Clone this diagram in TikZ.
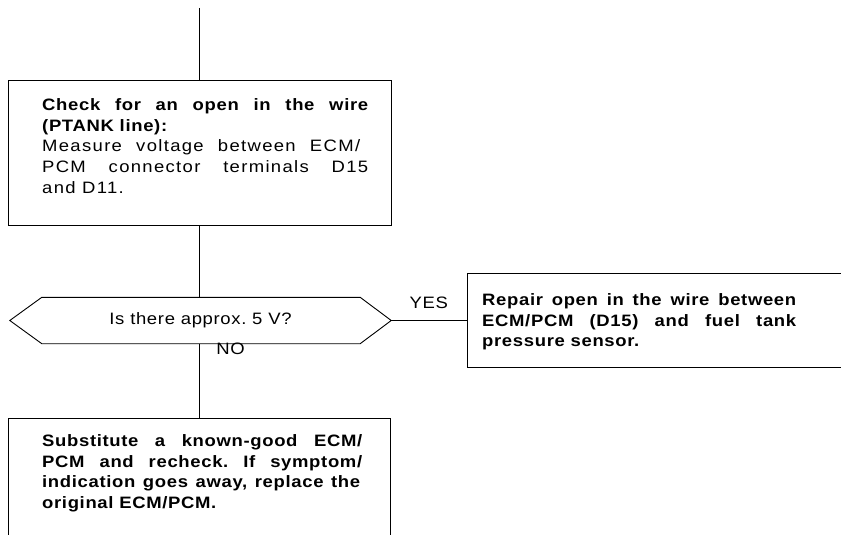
\documentclass[tikz,border=0pt]{standalone}
\usepackage{fontspec}
\setmainfont{Liberation Sans}[LetterSpace=4, FakeStretch=1.12]
\newfontfamily\widefont{Liberation Sans}[LetterSpace=8, FakeStretch=1.12]
\usetikzlibrary{calc}
\newcommand\jline[2]{\makebox[#1][s]{#2}}
\tikzset{
  conn/.style={line width=0.9pt},
  boxnode/.style={draw, line width=0.9pt, rectangle, inner sep=0pt},
  txt/.style={font=\fontsize{16.5}{20.8}\selectfont\frenchspacing, inner sep=0pt, align=left, anchor=north west},
  btxt/.style={txt, font=\fontsize{16.5}{20.8}\selectfont\frenchspacing\bfseries},
  lbl/.style={font=\fontsize{16.5}{18}\selectfont\frenchspacing, inner sep=0pt},
}
\begin{document}
\begin{tikzpicture}[x=1pt,y=-1pt]
\useasboundingbox (0,0) rectangle (841,535);
\clip (0,0) rectangle (841,535);
% boxes
\node[boxnode, minimum width=383pt, minimum height=145pt] (b1) at (199.5,152.5) {};
\node[boxnode, minimum width=433pt, minimum height=94pt] (b2) at (683.5,320.5) {};
\node[boxnode, minimum width=382pt, minimum height=162pt] (b3) at (199,499) {};
% decision
\node[lbl, minimum width=381pt, minimum height=46pt] (q) at (200.5,320.5) {Is there approx. 5 V?};
\draw[conn] (q.west) -- ([xshift=32pt]q.north west) -- ([xshift=-31pt]q.north east)
  -- (q.east) -- ([xshift=-31pt]q.south east) -- ([xshift=32pt]q.south west) -- cycle;
% texts
\node[txt] (t1) at (42,97.5) {\rule{0pt}{12.5pt}\textbf{\jline{326pt}{Check for an open in the wire}}\\
\textbf{(PTANK line):}\\
{\widefont\jline{318pt}{Measure voltage between ECM/}}\\
{\widefont\jline{326pt}{PCM connector terminals D15}}\\
{\widefont and D11.}};
\node[btxt] (t2) at (482,292.5) {\rule{0pt}{12.5pt}\jline{314pt}{Repair open in the wire between}\\
\jline{314pt}{ECM/PCM (D15) and fuel tank}\\
pressure sensor.};
\node[btxt] (t3) at (42,433.5) {\rule{0pt}{12.5pt}\jline{320pt}{Substitute a known-good ECM/}\\
\jline{320pt}{PCM and recheck. If symptom/}\\
\jline{318pt}{indication goes away, replace the}\\
original ECM/PCM.};
% connectors
\coordinate (top) at (199.5,8);
\draw[conn] (top) -- (b1.north);
\draw[conn] (b1.south) -- (b1.south |- q.north);
\draw[conn] (q.east) -- node[lbl, midway, above=11pt] (yes) {YES} (b2.west);
\draw[conn] (q.south -| b3.north) -- node[lbl, pos=0.07, anchor=west, xshift=17pt] (no) {NO} (b3.north);
\end{tikzpicture}
\end{document}
